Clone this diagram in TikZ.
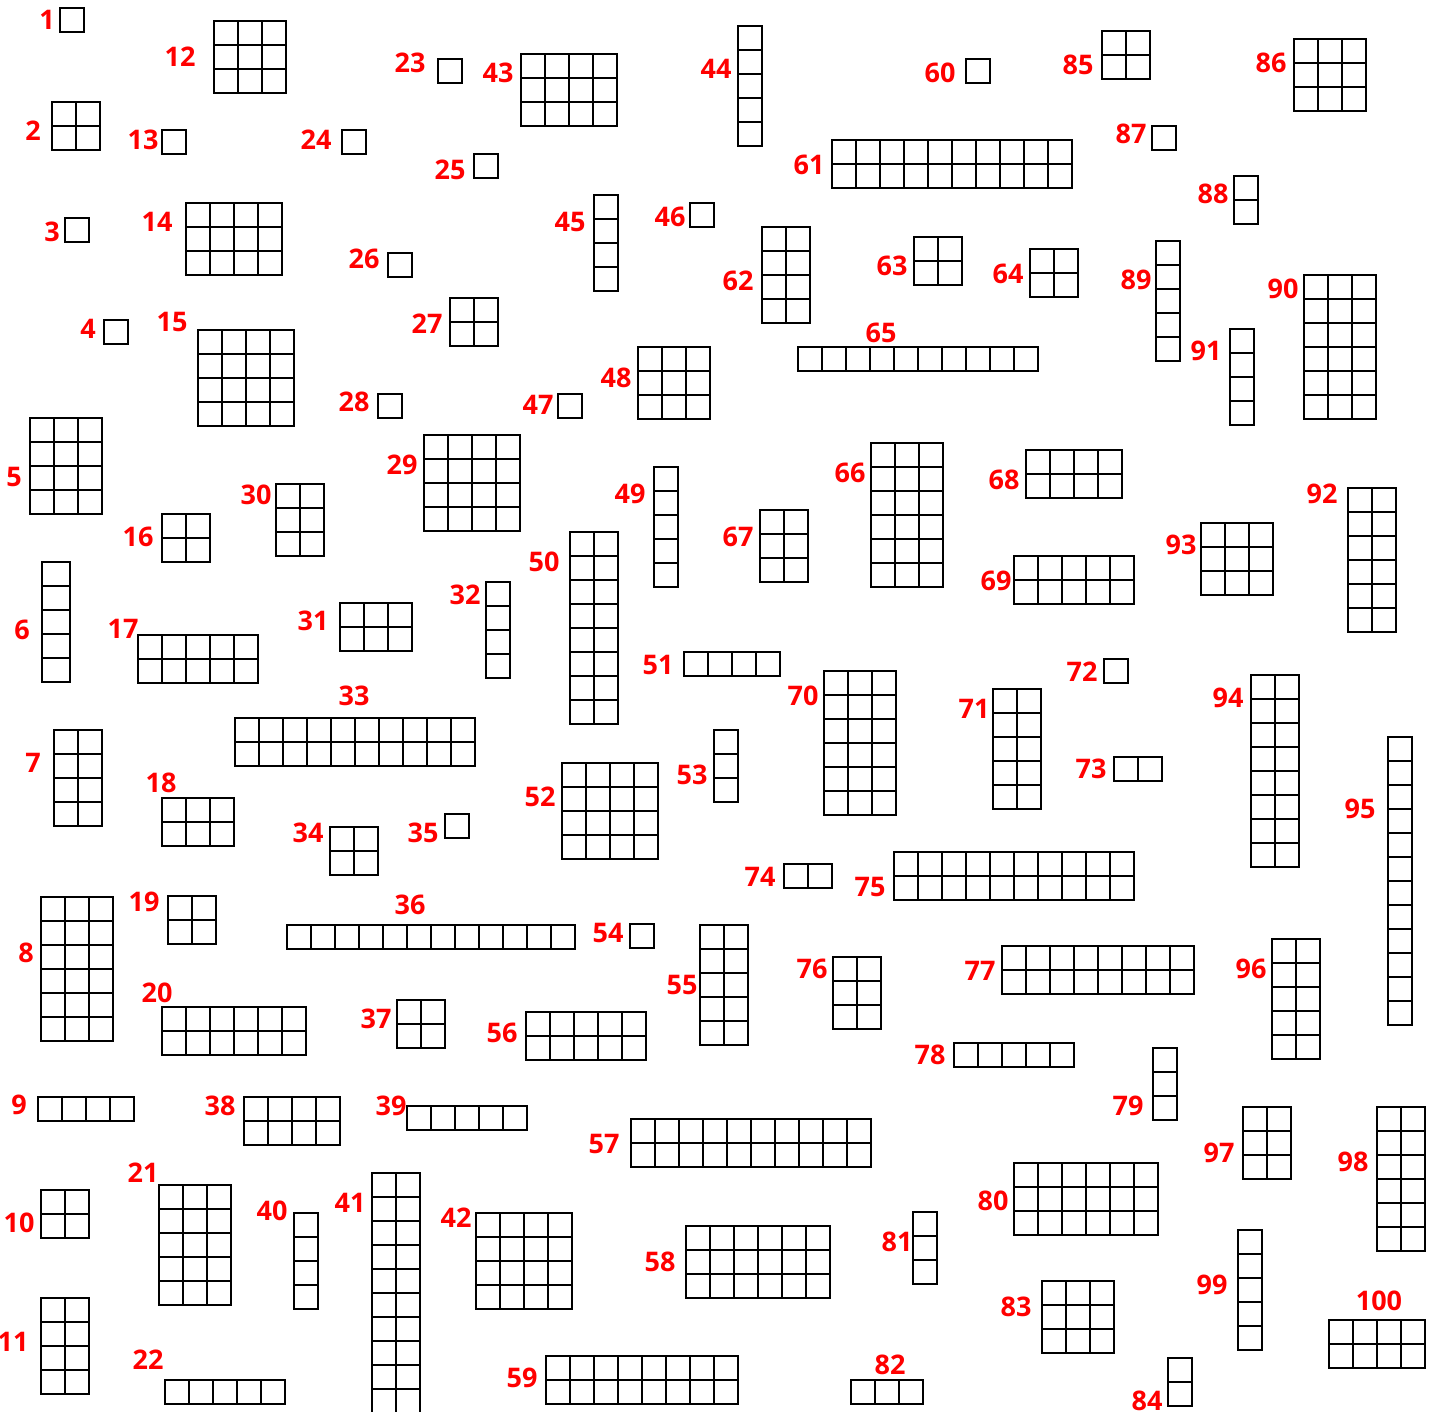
\documentclass[tikz,border=0pt]{standalone}
\usepackage{fontspec}
\setmainfont{Open Sans}
\definecolor{numred}{RGB}{255,0,0}
\tikzset{
  cellline/.style={black,line width=1.8pt,line cap=rect},
  numlabel/.style={text=numred,font=\fontsize{27}{27}\selectfont\bfseries,inner sep=0pt}
}
\begin{document}
\begin{tikzpicture}[x=1pt,y=-1pt]
  \useasboundingbox (0,0) rectangle (1439,1412);
  % number / corner x / corner y / columns / rows / cell width / label x / label y
  \foreach \n/\bx/\by/\nc/\nr/\cw/\lx/\ly in {
    1/60/8/1/1/24/47/20,        2/52/102/2/2/24/33/131,
    3/65/218/1/1/24/52/232,     4/104/320/1/1/24/88/329,
    5/30/418/3/4/24/14/477,     6/42/562/1/5/28/22/630,
    7/54/730/2/4/24/33/763,     8/41/897/3/6/24/26/953,
    9/38/1097/4/1/24/19/1105,   10/41/1190/2/2/24/19/1223,
    11/41/1298/2/4/24/13/1342,  12/214/21/3/3/24/180/57,
    13/162/130/1/1/24/143/140,  14/186/203/4/3/24/157/222,
    15/198/330/4/4/24/172/322,  16/162/514/2/2/24/138/537,
    17/138/635/5/2/24/123/629,  18/162/798/3/2/24/161/783,
    19/168/896/2/2/24/144/902,  20/162/1007/6/2/24/157/993,
    21/159/1185/3/5/24/143/1173, 22/165/1380/5/1/24/148/1360,
    23/438/59/1/1/24/410/63,    24/342/130/1/1/24/316/140,
    25/474/154/1/1/24/450/170,  26/388/253/1/1/24/364/259,
    27/450/298/2/2/24/427/324,  28/378/394/1/1/24/354/402,
    29/424/435/4/4/24/402/465,  30/276/484/2/3/24/256/495,
    31/340/603/3/2/24/313/621,  32/486/582/1/4/24/465/595,
    33/235/718/10/2/24/354/696, 34/330/827/2/2/24/308/833,
    35/445/814/1/1/24/423/833,  36/287/925/12/1/24/410/905,
    37/397/1000/2/2/24/376/1019, 38/244/1097/4/2/24/220/1106,
    39/407/1106/5/1/24/391/1106, 40/294/1213/1/4/24/272/1211,
    41/372/1173/2/10/24/350/1203, 42/476/1213/4/4/24/456/1218,
    43/521/54/4/3/24/498/73,    44/738/26/1/5/24/716/69,
    45/594/195/1/4/24/570/222,  46/690/203/1/1/24/670/217,
    47/558/394/1/1/24/538/405,  48/638/347/3/3/24/616/378,
    49/654/467/1/5/24/630/494,  50/570/532/2/8/24/544/562,
    51/684/652/4/1/24/658/665,  52/562/763/4/4/24/540/797,
    53/714/730/1/3/24/692/775,  54/630/924/1/1/24/608/933,
    55/700/925/2/5/24/682/985,  56/526/1012/5/2/24/502/1033,
    57/631/1119/10/2/24/604/1144, 58/686/1226/6/3/24/660/1262,
    59/546/1356/8/2/24/522/1378, 60/966/59/1/1/24/940/73,
    61/832/140/10/2/24/809/165, 62/762/227/2/4/24/738/281,
    63/914/237/2/2/24/892/266,  64/1030/249/2/2/24/1008/274,
    65/798/347/10/1/24/881/333, 66/871/443/3/6/24/850/473,
    67/760/510/2/3/24/738/537,  68/1026/450/4/2/24/1004/480,
    69/1014/556/5/2/24/996/581, 70/824/671/3/6/24/803/696,
    71/993/689/2/5/24/974/709,  72/1104/659/1/1/24/1082/672,
    73/1114/757/2/1/24/1091/769, 74/784/864/2/1/24/760/877,
    75/894/852/10/2/24/870/887, 76/833/957/2/3/24/812/969,
    77/1002/946/8/2/24/980/971, 78/954/1043/5/1/24/930/1055,
    79/1153/1048/1/3/24/1128/1106, 80/1014/1163/6/3/24/993/1201,
    81/913/1212/1/3/24/897/1242, 82/851/1380/3/1/24/890/1365,
    83/1042/1281/3/3/24/1016/1307, 84/1168/1358/1/2/24/1147/1401,
    85/1102/31/2/2/24/1078/65,  86/1294/39/3/3/24/1271/63,
    87/1152/126/1/1/24/1131/134, 88/1234/176/1/2/24/1213/194,
    89/1156/241/1/5/24/1136/280, 90/1304/275/3/6/24/1283/289,
    91/1230/329/1/4/24/1206/351, 92/1348/488/2/6/24/1322/494,
    93/1201/523/3/3/24/1181/545, 94/1251/675/2/8/24/1228/698,
    95/1388/737/1/12/24/1360/809, 96/1272/939/2/5/24/1251/969,
    97/1243/1107/2/3/24/1219/1153, 98/1377/1107/2/6/24/1353/1162,
    99/1238/1230/1/5/24/1212/1285, 100/1329/1320/4/2/24/1379/1301}{
    \coordinate (g\n) at (\bx,\by);
    \foreach \i in {0,...,\nc}
      \draw[cellline] (\bx+\i*\cw,\by) -- ++(0,\nr*24);
    \foreach \j in {0,...,\nr}
      \draw[cellline] (\bx,\by+\j*24) -- ++(\nc*\cw,0);
    \node[numlabel] (n\n) at (\lx,\ly) {\n};
  }
\end{tikzpicture}
\end{document}
